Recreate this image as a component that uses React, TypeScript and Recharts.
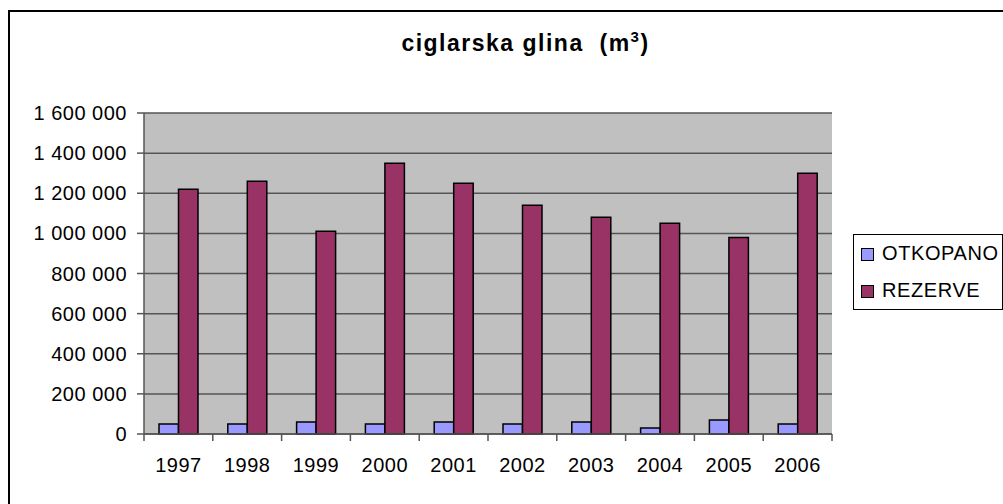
import React from 'react'
import { Bar, BarChart, CartesianGrid, XAxis, YAxis, Legend } from 'recharts'

// data
const years = ['1997', '1998', '1999', '2000', '2001', '2002', '2003', '2004', '2005', '2006']
const otkopano = [50000, 50000, 60000, 50000, 60000, 50000, 60000, 30000, 70000, 50000]
const rezerve = [1220000, 1260000, 1010000, 1350000, 1250000, 1140000, 1080000, 1050000, 980000, 1300000]
const yTicks = [0, 200000, 400000, 600000, 800000, 1000000, 1200000, 1400000, 1600000]

const seriesNames = ['OTKOPANO', 'REZERVE']
const seriesColors = ['#9999FF', '#993366']

const chartData = years.map((year, i) => ({
  year,
  OTKOPANO: otkopano[i],
  REZERVE: rezerve[i],
}))

const FONT = '"Liberation Sans", Arial, sans-serif'
const AXIS = '#555555'

const formatNumber = (v: number) => String(v).replace(/\B(?=(\d{3})+(?!\d))/g, ' ')

// Excel style: tick marks sit between the categories, not under them
const YearTick = (props: any) => {
  const { x, y, payload, index, visibleTicksCount } = props
  const half = payload?.offset ?? 34.4
  const axisY = y - 24
  return (
    <g>
      <line x1={x - half} x2={x - half} y1={axisY} y2={axisY + 7} stroke={AXIS} strokeWidth={1.5} />
      {index === visibleTicksCount - 1 && (
        <line x1={x + half} x2={x + half} y1={axisY} y2={axisY + 7} stroke={AXIS} strokeWidth={1.5} />
      )}
      <text
        x={x}
        y={y}
        dy="0.71em"
        textAnchor="middle"
        fill="#000"
        fontSize={20}
        letterSpacing={0.5}
        fontFamily={FONT}
      >
        {payload.value}
      </text>
    </g>
  )
}

const renderLegend = () => (
  <div
    style={{
      boxSizing: 'border-box',
      width: 150,
      height: 76,
      border: '1px solid #000',
      background: '#fff',
      fontFamily: FONT,
      fontSize: 20,
      letterSpacing: 0.6,
      color: '#000',
    }}
  >
    {seriesNames.map((name, i) => (
      <div key={name} style={{ height: 37, display: 'flex', alignItems: 'center', paddingLeft: 7 }}>
        <span
          style={{
            display: 'inline-block',
            boxSizing: 'border-box',
            width: 13,
            height: 13,
            background: seriesColors[i],
            border: '1.5px solid #000',
            marginRight: 8,
            marginTop: 2,
          }}
        />
        <span>{name}</span>
      </div>
    ))}
  </div>
)

export default function App() {
  return (
    <div
      style={{
        position: 'absolute',
        left: 8,
        top: 10,
        width: 995,
        height: 494,
        boxSizing: 'border-box',
        borderLeft: '2px solid #000',
        borderTop: '2px solid #000',
        background: '#fff',
      }}
    >
      <div
        style={{
          position: 'absolute',
          left: 515.5,
          top: 20,
          transform: 'translateX(-50%)',
          whiteSpace: 'pre',
          fontFamily: FONT,
          fontWeight: 'bold',
          fontSize: 23,
          lineHeight: 1,
          letterSpacing: 1.5,
          color: '#000',
        }}
      >
        ciglarska glina  (m<sup style={{ fontSize: 15, lineHeight: 0 }}>3</sup>)
      </div>
      <BarChart
        width={993}
        height={482}
        data={chartData}
        margin={{ top: 101, right: 171, left: 0, bottom: 0 }}
        barGap={0}
        barSize={19.5}
      >
        <CartesianGrid vertical={false} stroke={AXIS} strokeWidth={1.5} fill="#C0C0C0" fillOpacity={1} />
        <XAxis
          dataKey="year"
          height={60}
          tickLine={false}
          tickSize={7}
          tickMargin={17}
          axisLine={{ stroke: AXIS, strokeWidth: 1.5 }}
          tick={<YearTick />}
          interval={0}
        />
        <YAxis
          width={134}
          domain={[0, 1600000]}
          ticks={yTicks}
          interval={0}
          tickFormatter={formatNumber}
          tickSize={7}
          tickMargin={10}
          tickLine={{ stroke: AXIS, strokeWidth: 1.5 }}
          axisLine={{ stroke: AXIS, strokeWidth: 1.5 }}
          tick={{ fill: '#000', fontSize: 20, fontFamily: FONT, letterSpacing: 0.5 }}
        />
        <YAxis
          yAxisId="right"
          orientation="right"
          width={0}
          domain={[0, 1600000]}
          tick={false}
          tickLine={false}
          axisLine={{ stroke: '#808080', strokeWidth: 2 }}
        />
        <Legend
          layout="vertical"
          align="center"
          verticalAlign="middle"
          wrapperStyle={{ left: 843, top: 222, width: 150, height: 76 }}
          content={renderLegend}
        />
        {seriesNames.map((name, i) => (
          <Bar
            key={name}
            dataKey={name}
            fill={seriesColors[i]}
            stroke="#000"
            strokeWidth={1.5}
            isAnimationActive={false}
          />
        ))}
      </BarChart>
    </div>
  )
}
